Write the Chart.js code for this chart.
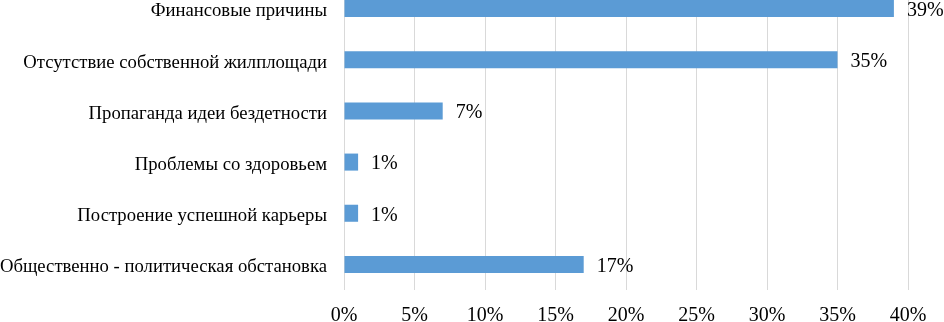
<!DOCTYPE html>
<html>
<head>
<meta charset="utf-8">
<script src="https://cdn.jsdelivr.net/npm/chart.js@4/dist/chart.umd.min.js"></script>
<style>
html,body{margin:0;padding:0;background:#fff;overflow:hidden;width:944px;height:322px;}
#wrap{position:absolute;left:0;top:-17px;width:944px;height:339px;}
</style>
</head>
<body>
<div id="wrap"><canvas id="c" width="944" height="339"></canvas></div>
<script>
const categories = [
  "Финансовые причины",
  "Отсутствие собственной жилплощади",
  "Пропаганда идеи бездетности",
  "Проблемы со здоровьем",
  "Построение успешной карьеры",
  "Общественно - политическая обстановка"
];
const values = [39, 35, 7, 1, 1, 17];
const xTicks = [0, 5, 10, 15, 20, 25, 30, 35, 40];

const FONT = "'Liberation Serif', 'Times New Roman', serif";

const labelPlugin = {
  id: 'barLabels',
  afterDatasetsDraw(chart) {
    const ctx = chart.ctx;
    const meta = chart.getDatasetMeta(0);
    ctx.save();
    ctx.font = "20px " + FONT;
    ctx.fillStyle = "#000";
    ctx.textAlign = "left";
    ctx.textBaseline = "middle";
    meta.data.forEach((bar, i) => {
      ctx.fillText(values[i] + "%", bar.x + 13, bar.y + 2);
    });
    ctx.restore();
  }
};

new Chart(document.getElementById('c'), {
  type: 'bar',
  data: {
    labels: categories,
    datasets: [{
      data: values,
      backgroundColor: '#5B9BD5',
      borderWidth: 0,
      categoryPercentage: 1,
      barPercentage: 0.333
    }]
  },
  options: {
    indexAxis: 'y',
    responsive: false,
    animation: false,
    layout: { padding: { left: 0, right: 36, top: 0, bottom: 0 } },
    plugins: { legend: { display: false }, tooltip: { enabled: false } },
    scales: {
      x: {
        min: 0, max: 40,
        afterBuildTicks(scale) { scale.ticks = xTicks.map(v => ({ value: v })); },
        afterFit(scale) {
          scale.height = 32;
          scale.paddingLeft = 0; scale.paddingRight = 0;
        },
        grid: { color: '#d9d9d9', lineWidth: 1, drawTicks: false },
        border: { display: false },
        ticks: {
          padding: 14,
          color: '#000',
          font: { family: FONT, size: 20 },
          callback: v => v + '%'
        }
      },
      y: {
        afterFit(scale) {
          scale.width = 344;
          scale.paddingTop = 0; scale.paddingBottom = 0;
        },
        grid: { display: false, drawTicks: false },
        border: { display: false },
        ticks: {
          padding: 17,
          labelOffset: 3,
          color: '#000',
          font: { family: FONT, size: 18.7 }
        }
      }
    }
  },
  plugins: [labelPlugin]
});
</script>
</body>
</html>
